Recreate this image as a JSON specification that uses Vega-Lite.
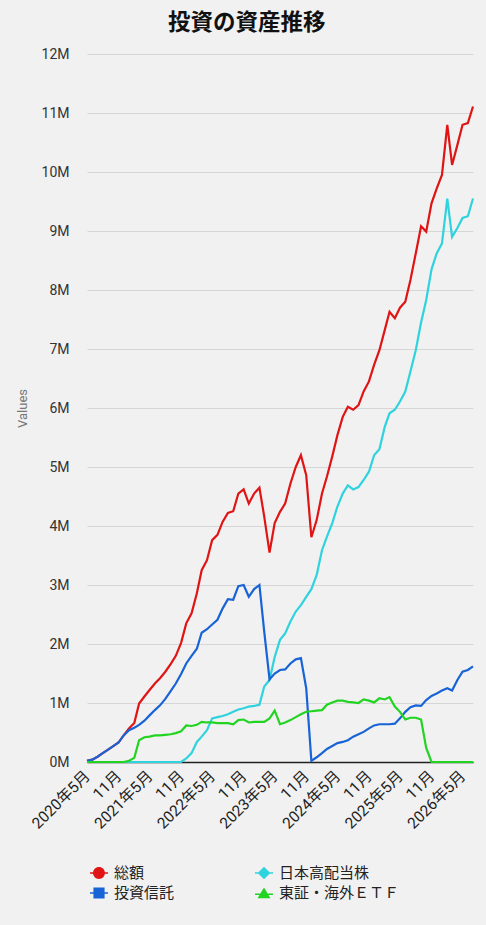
{
  "$schema": "https://vega.github.io/schema/vega-lite/v6.json",
  "description": "投資の資産推移",
  "width": 386,
  "height": 708,
  "autosize": {"type": "none"},
  "padding": {"left": 87, "top": 54, "right": 13, "bottom": 163},
  "background": "#f1f1f1",
  "title": {
    "text": "投資の資産推移",
    "font": "Noto Sans CJK JP",
    "fontSize": 22.5,
    "fontWeight": "bold",
    "color": "#111111",
    "anchor": "middle",
    "frame": "bounds",
    "offset": 13
  },
  "data": {
    "values": [
      {"month": "2020-05-01", "総額": 20000, "日本高配当株": 0, "投資信託": 20000, "東証・海外ＥＴＦ": 0},
      {"month": "2020-06-01", "総額": 40000, "日本高配当株": 0, "投資信託": 40000, "東証・海外ＥＴＦ": 0},
      {"month": "2020-07-01", "総額": 90000, "日本高配当株": 0, "投資信託": 90000, "東証・海外ＥＴＦ": 0},
      {"month": "2020-08-01", "総額": 150000, "日本高配当株": 0, "投資信託": 150000, "東証・海外ＥＴＦ": 0},
      {"month": "2020-09-01", "総額": 210000, "日本高配当株": 0, "投資信託": 210000, "東証・海外ＥＴＦ": 0},
      {"month": "2020-10-01", "総額": 270000, "日本高配当株": 0, "投資信託": 270000, "東証・海外ＥＴＦ": 0},
      {"month": "2020-11-01", "総額": 330000, "日本高配当株": 0, "投資信託": 330000, "東証・海外ＥＴＦ": 0},
      {"month": "2020-12-01", "総額": 450000, "日本高配当株": 0, "投資信託": 450000, "東証・海外ＥＴＦ": 0},
      {"month": "2021-01-01", "総額": 570000, "日本高配当株": 0, "投資信託": 540000, "東証・海外ＥＴＦ": 20000},
      {"month": "2021-02-01", "総額": 660000, "日本高配当株": 0, "投資信託": 580000, "東証・海外ＥＴＦ": 70000},
      {"month": "2021-03-01", "総額": 990000, "日本高配当株": 0, "投資信託": 630000, "東証・海外ＥＴＦ": 370000},
      {"month": "2021-04-01", "総額": 1110000, "日本高配当株": 0, "投資信託": 700000, "東証・海外ＥＴＦ": 420000},
      {"month": "2021-05-01", "総額": 1220000, "日本高配当株": 0, "投資信託": 790000, "東証・海外ＥＴＦ": 430000},
      {"month": "2021-06-01", "総額": 1330000, "日本高配当株": 0, "投資信託": 880000, "東証・海外ＥＴＦ": 450000},
      {"month": "2021-07-01", "総額": 1420000, "日本高配当株": 0, "投資信託": 960000, "東証・海外ＥＴＦ": 450000},
      {"month": "2021-08-01", "総額": 1530000, "日本高配当株": 0, "投資信託": 1070000, "東証・海外ＥＴＦ": 460000},
      {"month": "2021-09-01", "総額": 1660000, "日本高配当株": 0, "投資信託": 1200000, "東証・海外ＥＴＦ": 470000},
      {"month": "2021-10-01", "総額": 1800000, "日本高配当株": 0, "投資信託": 1330000, "東証・海外ＥＴＦ": 490000},
      {"month": "2021-11-01", "総額": 2020000, "日本高配当株": 0, "投資信託": 1490000, "東証・海外ＥＴＦ": 520000},
      {"month": "2021-12-01", "総額": 2350000, "日本高配当株": 60000, "投資信託": 1670000, "東証・海外ＥＴＦ": 620000},
      {"month": "2022-01-01", "総額": 2520000, "日本高配当株": 150000, "投資信託": 1800000, "東証・海外ＥＴＦ": 610000},
      {"month": "2022-02-01", "総額": 2860000, "日本高配当株": 340000, "投資信託": 1920000, "東証・海外ＥＴＦ": 630000},
      {"month": "2022-03-01", "総額": 3250000, "日本高配当株": 430000, "投資信託": 2190000, "東証・海外ＥＴＦ": 680000},
      {"month": "2022-04-01", "総額": 3420000, "日本高配当株": 540000, "投資信託": 2250000, "東証・海外ＥＴＦ": 670000},
      {"month": "2022-05-01", "総額": 3760000, "日本高配当株": 740000, "投資信託": 2330000, "東証・海外ＥＴＦ": 670000},
      {"month": "2022-06-01", "総額": 3850000, "日本高配当株": 760000, "投資信託": 2410000, "東証・海外ＥＴＦ": 660000},
      {"month": "2022-07-01", "総額": 4070000, "日本高配当株": 780000, "投資信託": 2600000, "東証・海外ＥＴＦ": 660000},
      {"month": "2022-08-01", "総額": 4220000, "日本高配当株": 810000, "投資信託": 2760000, "東証・海外ＥＴＦ": 660000},
      {"month": "2022-09-01", "総額": 4250000, "日本高配当株": 850000, "投資信託": 2750000, "東証・海外ＥＴＦ": 640000},
      {"month": "2022-10-01", "総額": 4550000, "日本高配当株": 890000, "投資信託": 2980000, "東証・海外ＥＴＦ": 710000},
      {"month": "2022-11-01", "総額": 4620000, "日本高配当株": 910000, "投資信託": 3000000, "東証・海外ＥＴＦ": 720000},
      {"month": "2022-12-01", "総額": 4380000, "日本高配当株": 940000, "投資信託": 2800000, "東証・海外ＥＴＦ": 670000},
      {"month": "2023-01-01", "総額": 4550000, "日本高配当株": 950000, "投資信託": 2930000, "東証・海外ＥＴＦ": 680000},
      {"month": "2023-02-01", "総額": 4650000, "日本高配当株": 970000, "投資信託": 3000000, "東証・海外ＥＴＦ": 680000},
      {"month": "2023-03-01", "総額": 4160000, "日本高配当株": 1280000, "投資信託": 2210000, "東証・海外ＥＴＦ": 680000},
      {"month": "2023-04-01", "総額": 3550000, "日本高配当株": 1390000, "投資信託": 1400000, "東証・海外ＥＴＦ": 740000},
      {"month": "2023-05-01", "総額": 4050000, "日本高配当株": 1780000, "投資信託": 1500000, "東証・海外ＥＴＦ": 870000},
      {"month": "2023-06-01", "総額": 4240000, "日本高配当株": 2070000, "投資信託": 1560000, "東証・海外ＥＴＦ": 640000},
      {"month": "2023-07-01", "総額": 4380000, "日本高配当株": 2180000, "投資信託": 1570000, "東証・海外ＥＴＦ": 670000},
      {"month": "2023-08-01", "総額": 4720000, "日本高配当株": 2380000, "投資信託": 1670000, "東証・海外ＥＴＦ": 710000},
      {"month": "2023-09-01", "総額": 5000000, "日本高配当株": 2550000, "投資信託": 1740000, "東証・海外ＥＴＦ": 760000},
      {"month": "2023-10-01", "総額": 5200000, "日本高配当株": 2660000, "投資信託": 1760000, "東証・海外ＥＴＦ": 810000},
      {"month": "2023-11-01", "総額": 4860000, "日本高配当株": 2800000, "投資信託": 1250000, "東証・海外ＥＴＦ": 850000},
      {"month": "2023-12-01", "総額": 3810000, "日本高配当株": 2930000, "投資信託": 20000, "東証・海外ＥＴＦ": 860000},
      {"month": "2024-01-01", "総額": 4100000, "日本高配当株": 3170000, "投資信託": 80000, "東証・海外ＥＴＦ": 870000},
      {"month": "2024-02-01", "総額": 4550000, "日本高配当株": 3590000, "投資信託": 150000, "東証・海外ＥＴＦ": 880000},
      {"month": "2024-03-01", "総額": 4840000, "日本高配当株": 3820000, "投資信託": 220000, "東証・海外ＥＴＦ": 970000},
      {"month": "2024-04-01", "総額": 5180000, "日本高配当株": 4050000, "投資信託": 270000, "東証・海外ＥＴＦ": 1010000},
      {"month": "2024-05-01", "総額": 5540000, "日本高配当株": 4330000, "投資信託": 320000, "東証・海外ＥＴＦ": 1040000},
      {"month": "2024-06-01", "総額": 5850000, "日本高配当株": 4550000, "投資信託": 340000, "東証・海外ＥＴＦ": 1040000},
      {"month": "2024-07-01", "総額": 6020000, "日本高配当株": 4690000, "投資信託": 370000, "東証・海外ＥＴＦ": 1020000},
      {"month": "2024-08-01", "総額": 5970000, "日本高配当株": 4620000, "投資信託": 430000, "東証・海外ＥＴＦ": 1010000},
      {"month": "2024-09-01", "総額": 6050000, "日本高配当株": 4660000, "投資信託": 470000, "東証・海外ＥＴＦ": 1000000},
      {"month": "2024-10-01", "総額": 6280000, "日本高配当株": 4780000, "投資信託": 510000, "東証・海外ＥＴＦ": 1060000},
      {"month": "2024-11-01", "総額": 6450000, "日本高配当株": 4920000, "投資信託": 570000, "東証・海外ＥＴＦ": 1040000},
      {"month": "2024-12-01", "総額": 6730000, "日本高配当株": 5200000, "投資信託": 620000, "東証・海外ＥＴＦ": 1010000},
      {"month": "2025-01-01", "総額": 6980000, "日本高配当株": 5300000, "投資信託": 640000, "東証・海外ＥＴＦ": 1080000},
      {"month": "2025-02-01", "総額": 7320000, "日本高配当株": 5680000, "投資信託": 640000, "東証・海外ＥＴＦ": 1060000},
      {"month": "2025-03-01", "総額": 7630000, "日本高配当株": 5910000, "投資信託": 640000, "東証・海外ＥＴＦ": 1100000},
      {"month": "2025-04-01", "総額": 7520000, "日本高配当株": 5970000, "投資信託": 650000, "東証・海外ＥＴＦ": 940000},
      {"month": "2025-05-01", "総額": 7700000, "日本高配当株": 6110000, "投資信託": 740000, "東証・海外ＥＴＦ": 850000},
      {"month": "2025-06-01", "総額": 7800000, "日本高配当株": 6280000, "投資信託": 850000, "東証・海外ＥＴＦ": 720000},
      {"month": "2025-07-01", "総額": 8170000, "日本高配当株": 6620000, "投資信託": 930000, "東証・海外ＥＴＦ": 750000},
      {"month": "2025-08-01", "総額": 8620000, "日本高配当株": 6980000, "投資信託": 960000, "東証・海外ＥＴＦ": 750000},
      {"month": "2025-09-01", "総額": 9080000, "日本高配当株": 7450000, "投資信託": 950000, "東証・海外ＥＴＦ": 720000},
      {"month": "2025-10-01", "総額": 8990000, "日本高配当株": 7830000, "投資信託": 1050000, "東証・海外ＥＴＦ": 240000},
      {"month": "2025-11-01", "総額": 9470000, "日本高配当株": 8350000, "投資信託": 1120000, "東証・海外ＥＴＦ": 0},
      {"month": "2025-12-01", "総額": 9720000, "日本高配当株": 8620000, "投資信託": 1160000, "東証・海外ＥＴＦ": 0},
      {"month": "2026-01-01", "総額": 9950000, "日本高配当株": 8790000, "投資信託": 1210000, "東証・海外ＥＴＦ": 0},
      {"month": "2026-02-01", "総額": 10800000, "日本高配当株": 9550000, "投資信託": 1250000, "東証・海外ＥＴＦ": 0},
      {"month": "2026-03-01", "総額": 10120000, "日本高配当株": 8900000, "投資信託": 1210000, "東証・海外ＥＴＦ": 0},
      {"month": "2026-04-01", "総額": 10460000, "日本高配当株": 9050000, "投資信託": 1390000, "東証・海外ＥＴＦ": 0},
      {"month": "2026-05-01", "総額": 10800000, "日本高配当株": 9220000, "投資信託": 1530000, "東証・海外ＥＴＦ": 0},
      {"month": "2026-06-01", "総額": 10830000, "日本高配当株": 9250000, "投資信託": 1560000, "東証・海外ＥＴＦ": 0},
      {"month": "2026-07-01", "総額": 11110000, "日本高配当株": 9550000, "投資信託": 1620000, "東証・海外ＥＴＦ": 0}
    ]
  },
  "transform": [
    {"fold": ["総額", "日本高配当株", "投資信託", "東証・海外ＥＴＦ"], "as": ["series", "value"]}
  ],
  "encoding": {
    "x": {
      "field": "month",
      "type": "temporal",
      "scale": {
        "type": "utc",
        "nice": false,
        "domain": [
          {"year": 2020, "month": 5, "date": 1, "utc": true},
          {"year": 2026, "month": 7, "date": 1, "utc": true}
        ]
      },
      "axis": {
        "title": null,
        "values": [
          {"year": 2020, "month": 5, "date": 1, "utc": true},
          {"year": 2020, "month": 11, "date": 1, "utc": true},
          {"year": 2021, "month": 5, "date": 1, "utc": true},
          {"year": 2021, "month": 11, "date": 1, "utc": true},
          {"year": 2022, "month": 5, "date": 1, "utc": true},
          {"year": 2022, "month": 11, "date": 1, "utc": true},
          {"year": 2023, "month": 5, "date": 1, "utc": true},
          {"year": 2023, "month": 11, "date": 1, "utc": true},
          {"year": 2024, "month": 5, "date": 1, "utc": true},
          {"year": 2024, "month": 11, "date": 1, "utc": true},
          {"year": 2025, "month": 5, "date": 1, "utc": true},
          {"year": 2025, "month": 11, "date": 1, "utc": true},
          {"year": 2026, "month": 5, "date": 1, "utc": true}
        ],
        "labelExpr": "utcmonth(datum.value) == 4 ? utcFormat(datum.value, '%Y年%-m月') : utcFormat(datum.value, '%-m月')",
        "labelAngle": -45,
        "labelAlign": "right",
        "labelBaseline": "middle",
        "labelFont": "Roboto, Noto Sans CJK JP, sans-serif",
        "labelFontSize": 15.5,
        "labelColor": "#222222",
        "labelPadding": 11,
        "labelOverlap": false,
        "labelFlush": false,
        "ticks": false,
        "grid": false,
        "domainColor": "#222222",
        "domainWidth": 1.5
      }
    },
    "y": {
      "field": "value",
      "type": "quantitative",
      "scale": {"domain": [0, 12000000], "nice": false},
      "axis": {
        "title": "Values",
        "titleFont": "Roboto, sans-serif",
        "titleFontSize": 13,
        "titleFontWeight": "normal",
        "titleColor": "#777777",
        "titlePadding": 12,
        "tickCount": 12,
        "format": "~s",
        "labelFont": "Roboto, sans-serif",
        "labelFontSize": 14,
        "labelColor": "#333333",
        "labelPadding": 18,
        "ticks": false,
        "domain": false,
        "gridColor": "#d6d6d6",
        "gridWidth": 1
      }
    },
    "color": {
      "field": "series",
      "type": "nominal",
      "scale": {
        "domain": ["総額", "日本高配当株", "投資信託", "東証・海外ＥＴＦ"],
        "range": ["#e01414", "#2ed3de", "#1863d6", "#22d422"]
      },
      "legend": {
        "title": null,
        "orient": "none",
        "direction": "horizontal",
        "legendX": 3,
        "legendY": 810,
        "columns": 2,
        "columnPadding": 80,
        "rowPadding": 3,
        "symbolSize": 324,
        "symbolOpacity": 1,
        "symbolStrokeWidth": 0,
        "labelFont": "Noto Sans CJK JP",
        "labelFontSize": 15,
        "labelColor": "#222222",
        "labelOffset": 6
      }
    }
  },
  "layer": [
    {
      "mark": {"type": "line", "strokeWidth": 2.2}
    },
    {
      "mark": {"type": "point", "filled": true, "opacity": 0},
      "encoding": {
        "shape": {
          "field": "series",
          "type": "nominal",
          "scale": {
            "domain": ["総額", "日本高配当株", "投資信託", "東証・海外ＥＴＦ"],
            "range": [
              "M-1,-0.09H1V0.09H-1Z M0.66,0A0.66,0.66 0 1,1 -0.66,0A0.66,0.66 0 1,1 0.66,0Z",
              "M-1,-0.09H1V0.09H-1Z M0,-0.7L0.7,0L0,0.7L-0.7,0Z",
              "M-1,-0.09H1V0.09H-1Z M-0.62,-0.62H0.62V0.62H-0.62Z",
              "M-1,0.05H1V0.23H-1Z M0,-0.62L0.72,0.58H-0.72Z"
            ]
          },
          "legend": {
            "title": null,
            "orient": "none",
            "direction": "horizontal",
            "legendX": 3,
            "legendY": 810,
            "columns": 2,
            "columnPadding": 80,
            "rowPadding": 3,
            "symbolSize": 324,
            "symbolOpacity": 1,
            "symbolStrokeWidth": 0,
            "labelFont": "Noto Sans CJK JP",
            "labelFontSize": 15,
            "labelColor": "#222222",
            "labelOffset": 6
          }
        }
      }
    }
  ],
  "config": {
    "view": {"stroke": null},
    "font": "Roboto, Noto Sans CJK JP, sans-serif"
  }
}
